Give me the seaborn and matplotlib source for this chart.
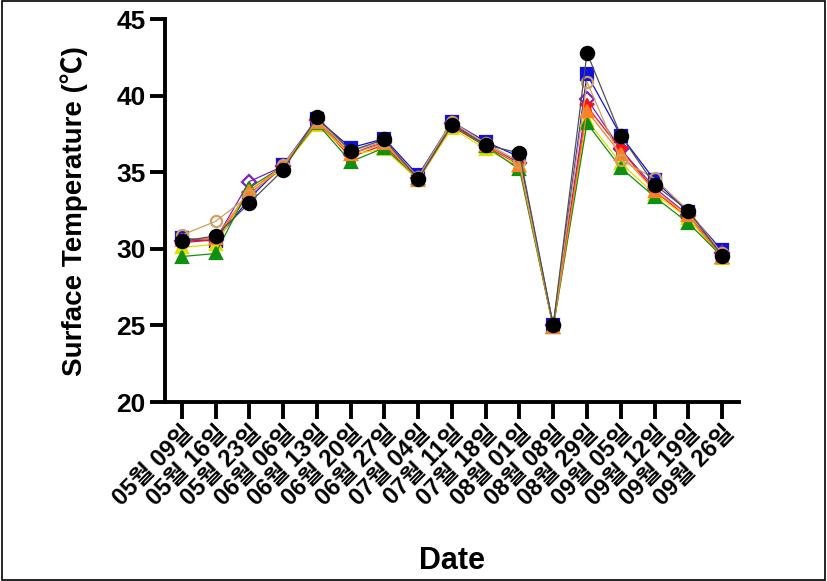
import matplotlib
matplotlib.use("Agg")
import matplotlib.pyplot as plt
import seaborn as sns
import pandas as pd
import numpy as np
from matplotlib.patches import Rectangle

# dates of the survey
dates = ["05월 09일", "05월 16일", "05월 23일", "06월 06일", "06월 13일", "06월 20일",
         "06월 27일", "07월 04일", "07월 11일", "07월 18일", "08월 01일", "08월 08일",
         "08월 29일", "09월 05일", "09월 12일", "09월 19일", "09월 26일"]

# surface temperature (C) per series
blue_sq = [30.7, 30.5, 33.3, 35.5, 38.5, 36.6, 37.2, 34.8, 38.3, 37.0, 36.0, 25.0, 41.4, 37.4, 34.5, 32.4, 29.9]
purple_dia = [30.5, 30.6, 34.4, 35.4, 38.4, 36.2, 37.0, 34.6, 38.2, 36.8, 35.6, 25.0, 39.8, 36.5, 34.0, 32.2, 29.7]
red_star = [30.4, 30.6, 33.6, 35.3, 38.3, 36.0, 36.8, 34.5, 38.0, 36.7, 35.5, 24.9, 39.3, 36.5, 33.8, 32.0, 29.6]
yellow_tri = [30.1, 30.3, 33.8, 35.3, 38.1, 36.2, 36.5, 34.5, 37.9, 36.5, 35.4, 24.9, 38.4, 35.6, 33.6, 32.0, 29.4]
green_tri = [29.5, 29.7, 34.0, 35.4, 38.2, 35.7, 36.6, 34.6, 38.1, 36.7, 35.2, 24.9, 38.2, 35.3, 33.4, 31.7, 29.5]
orange_tri = [30.6, 30.7, 33.8, 35.4, 38.3, 36.2, 36.9, 34.5, 38.1, 36.8, 35.5, 24.9, 39.0, 36.2, 33.8, 32.2, 29.5]
tan_circ = [30.9, 31.8, 33.5, 35.5, 38.4, 36.4, 37.0, 34.7, 38.3, 36.9, 35.7, 25.0, 40.9, 35.8, 34.6, 32.5, 29.7]
black_circ = [30.5, 30.85, 33.0, 35.15, 38.6, 36.4, 37.15, 34.55, 38.1, 36.8, 36.25, 25.0, 42.8, 37.4, 34.2, 32.5, 29.55]

sns.set_style("ticks", {"axes.edgecolor": "black", "text.color": "black",
                        "axes.labelcolor": "black", "xtick.color": "black",
                        "ytick.color": "black"})
plt.rcParams["font.family"] = ["Liberation Sans", "Noto Sans CJK KR"]
plt.rcParams["font.weight"] = "bold"

fig = plt.figure(figsize=(8.27, 5.81), dpi=100)
ax = fig.add_axes([0.1995, 0.308, 0.694, 0.659])

x = np.arange(len(dates))

series = [
    (blue_sq, "#1010e0", "s", True, 8),
    (purple_dia, "#8020c0", "D", False, 7),
    (red_star, "#ff1010", "*", True, 10),
    (yellow_tri, "#e0e000", "^", True, 8),
    (green_tri, "#109010", "^", True, 8),
    (orange_tri, "#ff8020", "^", True, 8),
    (tan_circ, "#d0a060", "o", False, 8),
    (black_circ, "black", "o", True, 9.5),
]

for vals, col, mk, filled, ms in series:
    line_col = "#505050" if col == "black" else col
    sns.lineplot(x=x, y=vals, ax=ax, color=line_col, marker=mk, markersize=ms,
                 markerfacecolor=col if filled else "none", markeredgecolor=col,
                 markeredgewidth=1.6, linewidth=0.9)

ax.set_xlim(-0.5, len(dates) - 0.5)
ax.set_ylim(20, 45)
ax.set_yticks([20, 25, 30, 35, 40, 45])
ax.set_xticks(x)
ax.set_xticklabels(dates, rotation=45, ha="right", rotation_mode="anchor",
                   fontsize=17, fontweight="bold")
ax.tick_params(axis="y", labelsize=19, width=2.8, length=11, pad=3)
ax.tick_params(axis="x", width=2.8, length=12, pad=2)
for lab in ax.get_yticklabels():
    lab.set_fontweight("bold")

sns.despine(ax=ax)
ax.spines["left"].set_linewidth(2.8)
ax.spines["bottom"].set_linewidth(2.8)

ax.set_xlabel("Date", fontsize=22, fontweight="bold")
ax.set_ylabel("Surface Temperature (℃)", fontsize=20, fontweight="bold")
ax.xaxis.set_label_coords(0.5, -0.375)
ax.yaxis.set_label_coords(-0.135, 0.5)

fig.patches.append(Rectangle((0.002, 0.002), 0.996, 0.996, transform=fig.transFigure,
                             fill=False, edgecolor="black", linewidth=1.2))

fig.savefig("out.png", dpi=100)
